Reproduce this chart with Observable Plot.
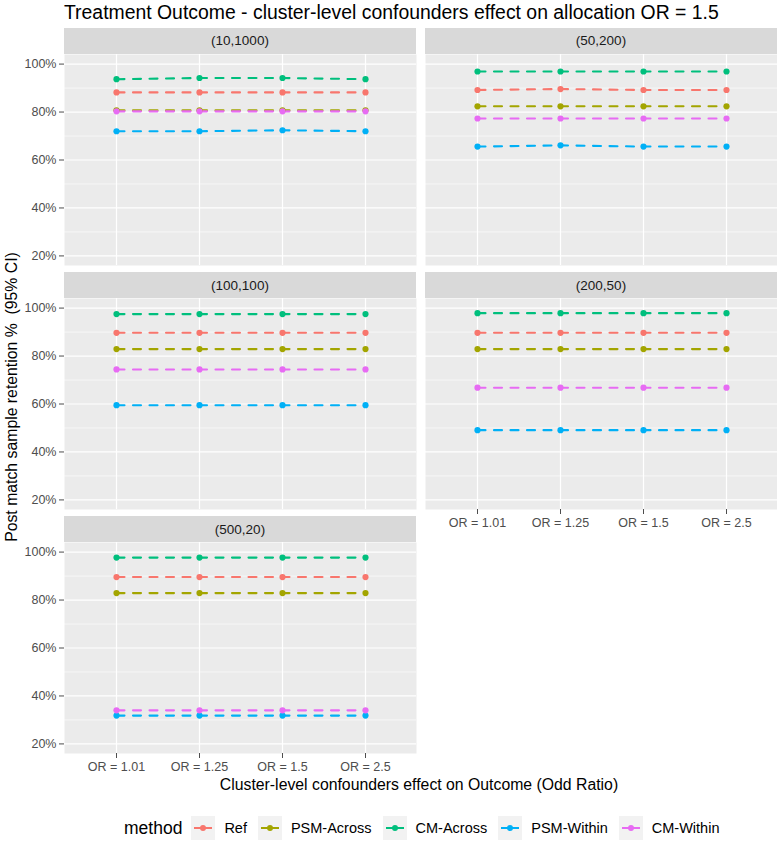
<!DOCTYPE html>
<html><head><meta charset="utf-8">
<script src="https://cdn.jsdelivr.net/npm/d3@7"></script>
<script src="https://cdn.jsdelivr.net/npm/@observablehq/plot@0.6"></script>
<style>
body{margin:0;background:#fff;font-family:"Liberation Sans",Arial,sans-serif;}
#root{position:relative;width:777px;height:843px;overflow:hidden;background:#fff;}
.chart{position:absolute;}
.strip{position:absolute;background:#D9D9D9;color:#1A1A1A;font-size:13.5px;display:flex;align-items:center;justify-content:center;}
#title{position:absolute;left:64px;top:0px;font-size:19.4px;line-height:24px;color:#000;white-space:nowrap;}
#xtitle{position:absolute;left:0;width:838px;top:776px;text-align:center;font-size:15.8px;color:#000;white-space:nowrap;}
#ytitle{position:absolute;left:12px;top:397px;font-size:15.8px;color:#000;white-space:pre;transform:translate(-50%,-50%) rotate(-90deg);}
#legend{position:absolute;left:124px;top:816px;height:24px;display:flex;align-items:center;white-space:nowrap;}
#legend .ltitle{font-size:17.5px;color:#000;margin-right:9px;}
#legend .ltext{font-size:14.5px;color:#000;margin-left:9px;margin-right:11px;}
#legend svg{display:block;}
</style></head><body><div id="root"></div>
<script>
// ---- data ----
const orLevels = ["OR = 1.01", "OR = 1.25", "OR = 1.5", "OR = 2.5"];
const methods = ["Ref", "PSM-Across", "CM-Across", "PSM-Within", "CM-Within"];
const methodColors = ["#F8766D", "#A3A500", "#00BF7D", "#00B0F6", "#E76BF3"];
const panels = ["(10,1000)", "(50,200)", "(100,100)", "(200,50)", "(500,20)"];
const yTicks = [20, 40, 60, 80, 100];
const yMinor = [30, 50, 70, 90];
// values (%) per panel, one array per method, 4 OR levels each
const refValues       = [[88.2, 88.2, 88.2, 88.2], [89.2, 89.6, 89.2, 89.2], [89.7, 89.7, 89.7, 89.7], [89.7, 89.7, 89.7, 89.7], [89.6, 89.6, 89.6, 89.6]];
const psmAcrossValues = [[80.7, 80.7, 80.7, 80.7], [82.4, 82.4, 82.4, 82.4], [82.9, 82.9, 82.9, 82.9], [82.9, 82.9, 82.9, 82.9], [82.9, 82.9, 82.9, 82.9]];
const cmAcrossValues  = [[93.7, 94.2, 94.2, 93.7], [96.9, 96.9, 96.9, 96.9], [97.5, 97.5, 97.5, 97.5], [97.9, 97.9, 97.9, 97.9], [97.7, 97.7, 97.7, 97.7]];
const psmWithinValues = [[72.0, 72.0, 72.4, 72.0], [65.6, 66.1, 65.6, 65.6], [59.5, 59.5, 59.5, 59.5], [49.1, 49.1, 49.1, 49.1], [31.8, 31.8, 31.8, 31.8]];
const cmWithinValues  = [[80.3, 80.3, 80.3, 80.3], [77.3, 77.3, 77.3, 77.3], [74.4, 74.4, 74.4, 74.4], [66.8, 66.8, 66.8, 66.8], [34.0, 34.0, 34.0, 34.0]];
const seriesByMethod = [refValues, psmAcrossValues, cmAcrossValues, psmWithinValues, cmWithinValues];

const titleText = "Treatment Outcome - cluster-level confounders effect on allocation OR = 1.5";
const xTitle = "Cluster-level confounders effect on Outcome (Odd Ratio)";
const yTitle = "Post match sample retention %  (95% CI)";
const legendTitle = "method";

// ---- layout ----
const FONT = '"Liberation Sans", Arial, sans-serif';
const panelW = 352, panelH = 211, stripH = 26;
const colX = [64, 425];
const rowY = [53.5, 298, 542];

const root = document.getElementById("root");

panels.forEach((pname, i) => {
  const col = i % 2, row = Math.floor(i / 2);
  const showY = col === 0;
  const showX = (i === 3 || i === 4);
  const mL = showY ? 64 : 0;
  const mB = showX ? 30 : 0;
  const rows = [];
  methods.forEach((m, mi) => {
    orLevels.forEach((o, oi) => rows.push({panel: pname, method: m, or: o, value: seriesByMethod[mi][i][oi]}));
  });
  const chart = Plot.plot({
    width: panelW + mL,
    height: panelH + mB,
    marginLeft: mL, marginRight: 0, marginTop: 0, marginBottom: mB,
    style: {fontFamily: FONT, fontSize: "12.5px", background: "transparent", overflow: "visible"},
    x: {type: "point", domain: orLevels, padding: 0.6, axis: null},
    y: {domain: [16, 104], axis: null},
    color: {domain: methods, range: methodColors},
    marks: [
      Plot.frame({fill: "#EBEBEB", stroke: "none"}),
      Plot.gridY(yMinor, {stroke: "#FFFFFF", strokeOpacity: 1, strokeWidth: 0.6}),
      Plot.gridY(yTicks, {stroke: "#FFFFFF", strokeOpacity: 1, strokeWidth: 1.2}),
      Plot.gridX(orLevels, {stroke: "#FFFFFF", strokeOpacity: 1, strokeWidth: 1.2}),
      showY ? Plot.axisY(yTicks, {tickFormat: d => d + "%", tickSize: 5, tickPadding: 3, color: "#4D4D4D", label: null}) : null,
      showX ? Plot.axisX(orLevels, {tickSize: 5, tickPadding: 4, color: "#4D4D4D", label: null}) : null,
      Plot.line(rows, {x: "or", y: "value", z: "method", stroke: "method", strokeWidth: 2.1, strokeDasharray: "8,8.5"}),
      Plot.dot(rows, {x: "or", y: "value", fill: "method", r: 3.1, stroke: "none"})
    ]
  });
  chart.classList.add("chart");
  chart.style.left = (colX[col] - mL) + "px";
  chart.style.top = rowY[row] + "px";
  root.appendChild(chart);

  const strip = document.createElement("div");
  strip.className = "strip";
  strip.style.left = colX[col] + "px";
  strip.style.top = (rowY[row] - stripH) + "px";
  strip.style.width = panelW + "px";
  strip.style.height = stripH + "px";
  strip.textContent = pname;
  root.appendChild(strip);
});

const t = document.createElement("div"); t.id = "title"; t.textContent = titleText; root.appendChild(t);
const xt = document.createElement("div"); xt.id = "xtitle"; xt.textContent = xTitle; root.appendChild(xt);
const yt = document.createElement("div"); yt.id = "ytitle"; yt.textContent = yTitle; root.appendChild(yt);

const lg = document.createElement("div"); lg.id = "legend";
const lt = document.createElement("span"); lt.className = "ltitle"; lt.textContent = legendTitle; lg.appendChild(lt);
methods.forEach((m, mi) => {
  const key = d3.create("svg").attr("width", 24).attr("height", 24);
  key.append("rect").attr("width", 24).attr("height", 24).attr("fill", "#F2F2F2");
  key.append("line").attr("x1", 3).attr("x2", 21).attr("y1", 12).attr("y2", 12).attr("stroke", methodColors[mi]).attr("stroke-width", 2);
  key.append("circle").attr("cx", 12).attr("cy", 12).attr("r", 3).attr("fill", methodColors[mi]);
  lg.appendChild(key.node());
  const s = document.createElement("span"); s.className = "ltext"; s.textContent = m; lg.appendChild(s);
});
root.appendChild(lg);
</script>
</body></html>
